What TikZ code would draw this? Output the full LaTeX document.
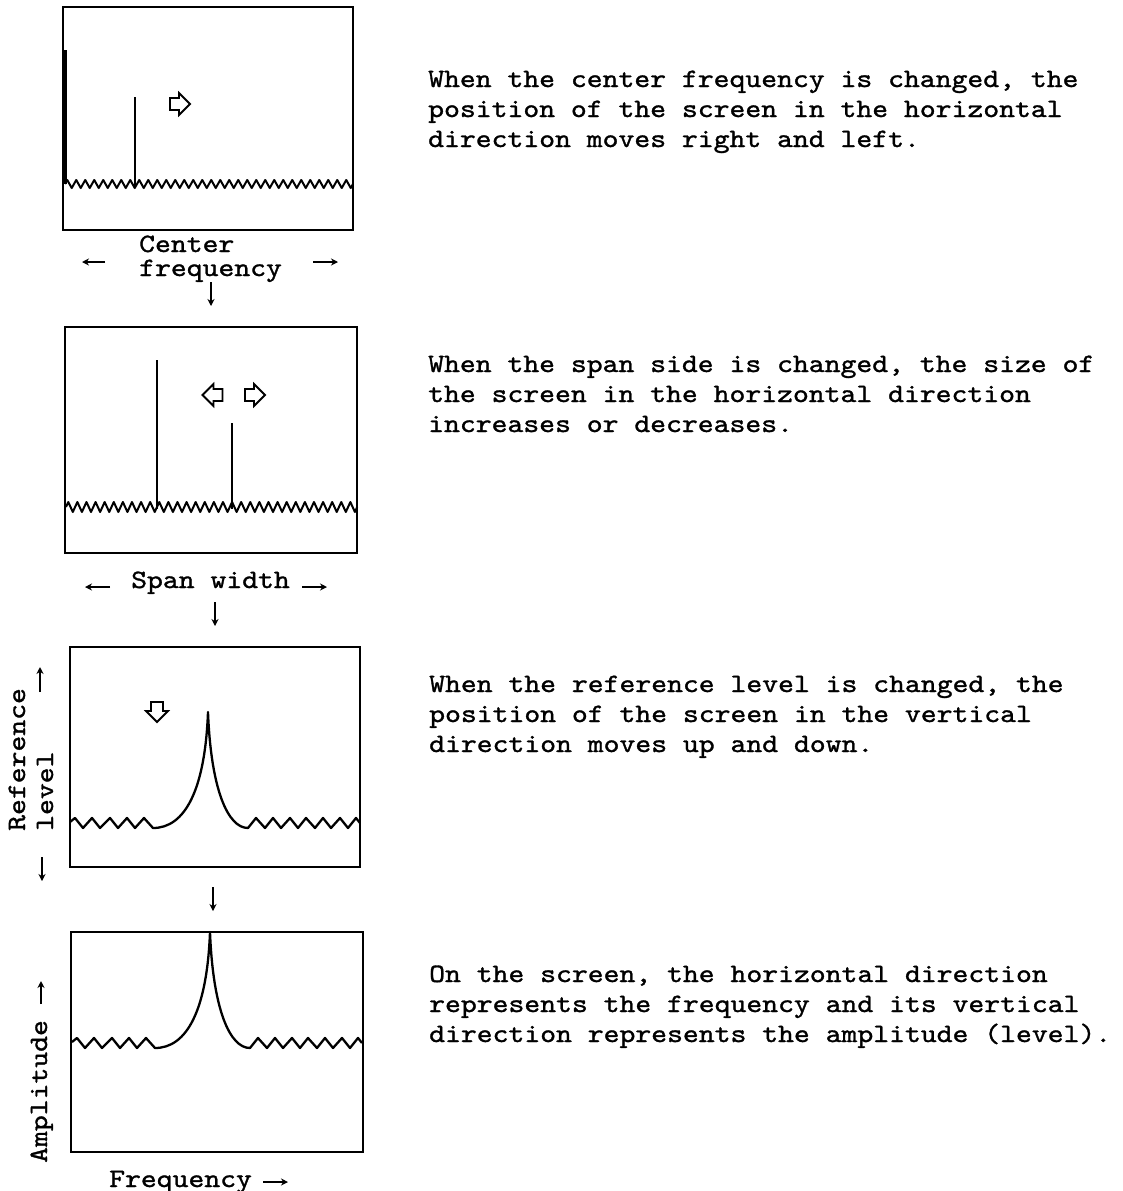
\documentclass[tikz,border=0pt]{standalone}
\usepackage{fontspec}
\newfontfamily\tw{lmmono10-regular.otf}[FakeStretch=1.14,FakeBold=1.2]
\usetikzlibrary{arrows.meta}
\tikzset{
  pics/blockarr/.style={code={
    \draw[barrow] (-10,-6) -- (-1,-6) -- (-1,-11) -- (10,0) -- (-1,11) -- (-1,6) -- (-10,6) -- cycle;}},
  pics/lorentz/.style={code={
    \draw[peak] (0,-1) -- (5,-5) -- (13,5) -- (22,-5) -- (30,5) -- (40,-5) -- (48,5) -- (57,-5) -- (65,5) -- (74,-5) -- (83,5)
      .. controls (115,5) and (135,-33) .. (138,-111)
      .. controls (141,-33) and (158,5) .. (178,5)
      -- (186,-5) -- (195,5) -- (203,-5) -- (211,5) -- (220,-5) -- (228,5) -- (236,-5) -- (245,5)
      -- (253,-5) -- (261,5) -- (270,-5) -- (278,5) -- (286,-5) -- (290,0);}}
}
\begin{document}
\begin{tikzpicture}[x=1pt,y=-1pt,
  screen/.style={draw, line width=2.6pt, inner sep=0pt, outer sep=0pt, anchor=north west},
  spike/.style={line width=2.6pt},
  noise/.style={line width=2pt, line join=round},
  peak/.style={line width=2.3pt, line join=round},
  ind/.style={line width=1.8pt, -{Stealth[length=7pt,width=7pt]}},
  txt/.style={font=\tw\fontsize{26.5}{30}\selectfont, inner sep=0pt, anchor=base west, align=left},
  barrow/.style={draw, line width=1.8pt, line join=miter}
]
\fill[white] (0,0) rectangle (1122,1191);
\useasboundingbox (0,0) rectangle (1122,1191);

% ---------- screen 1 : centre frequency ----------
\node[screen, minimum width=290pt, minimum height=223pt] (s1) at (63,7) {};
\draw[spike] (65.5,50) -- (65.5,184);
\draw[spike] (135,97) -- (135,187);
\draw[noise] (65,184) \foreach \i in {1,...,32}{ -- ++(2.25,-4) -- ++(4.5,8) -- ++(2.25,-4)};
\pic (b1) at (180,104) {blockarr};
\node[txt] (cf1) at (139,252) {Center};
\node[txt] (cf2) at (139,276) {frequency};
\coordinate (l1a) at (105,262); \coordinate (l1b) at (82,262);
\coordinate (r1a) at (313,262); \coordinate (r1b) at (338,262);
\draw[ind] (l1a) -- (l1b);
\draw[ind] (r1a) -- (r1b);
\coordinate (d1a) at (211,282); \coordinate (d1b) at (211,306);
\draw[ind] (d1a) -- (d1b);

% ---------- screen 2 : span ----------
\node[screen, minimum width=292pt, minimum height=226pt] (s2) at (65,327) {};
\draw[spike] (157,360) -- (157,509);
\draw[spike] (232,423) -- (232,509);
\draw[noise] (66,507) \foreach \i in {1,...,32}{ -- ++(2.275,-5) -- ++(4.55,10) -- ++(2.275,-5)};
\pic[rotate=180] (b2) at (212.5,395) {blockarr};
\pic (b3) at (255,395) {blockarr};
\node[txt] (sw) at (131,588) {Span width};
\coordinate (l2a) at (110,587); \coordinate (l2b) at (85,587);
\coordinate (r2a) at (302,587); \coordinate (r2b) at (327,587);
\draw[ind] (l2a) -- (l2b);
\draw[ind] (r2a) -- (r2b);
\coordinate (d2a) at (215,602); \coordinate (d2b) at (215,626);
\draw[ind] (d2a) -- (d2b);

% ---------- screen 3 : reference level ----------
\node[screen, minimum width=290pt, minimum height=220pt] (s3) at (70,647) {};
\pic (t3) at (70,823) {lorentz};
\pic[rotate=-90] (b4) at (157,712) {blockarr};
\node[txt, rotate=90, font=\tw\fontsize{26.5}{28}\selectfont] (rl) at (53,831) {Reference\\level};
\coordinate (u3a) at (40,692); \coordinate (u3b) at (40,667);
\draw[ind] (u3a) -- (u3b);
\coordinate (w3a) at (42,857); \coordinate (w3b) at (42,881);
\draw[ind] (w3a) -- (w3b);
\coordinate (d3a) at (213,887); \coordinate (d3b) at (213,911);
\draw[ind] (d3a) -- (d3b);

% ---------- screen 4 : amplitude / frequency ----------
\node[screen, minimum width=292pt, minimum height=220pt] (s4) at (71,932) {};
\pic (t4) at (72,1043) {lorentz};
\node[txt, rotate=90] (amp) at (47,1163) {Amplitude};
\coordinate (u4a) at (41,1004); \coordinate (u4b) at (41,981);
\draw[ind] (u4a) -- (u4b);
\node[txt] (fq) at (109,1187) {Frequency};
\coordinate (f4a) at (263,1182); \coordinate (f4b) at (288,1182);
\draw[ind] (f4a) -- (f4b);

% ---------- descriptions ----------
\node[txt] (t1) at (428,147) {When the center frequency is changed, the\\position of the screen in the horizontal\\direction moves right and left.};
\node[txt] (t2) at (428,432) {When the span side is changed, the size of\\the screen in the horizontal direction\\increases or decreases.};
\node[txt] (t3) at (429,752) {When the reference level is changed, the\\position of the screen in the vertical\\direction moves up and down.};
\node[txt] (t4) at (429,1042) {On the screen, the horizontal direction\\represents the frequency and its vertical\\direction represents the amplitude (level).};
\end{tikzpicture}
\end{document}
